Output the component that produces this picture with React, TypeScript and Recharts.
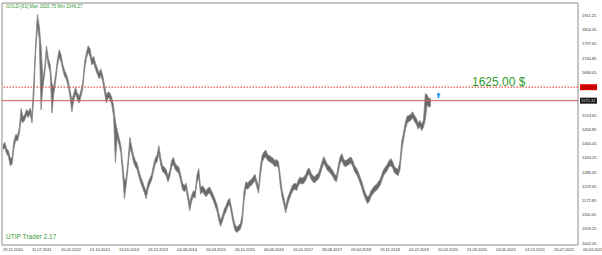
import React from 'react'
import { ComposedChart, Area, XAxis, YAxis, ReferenceLine, ReferenceArea, ReferenceDot } from 'recharts'

// daily gold, sampled every 2 weeks starting 29.11.2010
const START = Date.UTC(2010, 10, 29)
const STEP_DAYS = 14

const lows = [
  1376, 1384, 1360, 1348, 1312, 1318, 1380, 1414, 1410, 1440, 1492, 1484, 1494, 1515, 1504, 1520,
  1482, 1590, 1760, 1865, 1820, 1535, 1625, 1675, 1755, 1712, 1685, 1522, 1595, 1645, 1708, 1745,
  1728, 1694, 1668, 1655, 1628, 1585, 1527, 1572, 1598, 1578, 1562, 1588, 1618, 1695, 1738, 1764,
  1748, 1714, 1722, 1698, 1678, 1658, 1672, 1648, 1606, 1562, 1584, 1578, 1556, 1510, 1325, 1424,
  1396, 1364, 1280, 1180, 1236, 1305, 1380, 1362, 1326, 1308, 1296, 1268, 1243, 1223, 1203, 1180,
  1218, 1238, 1254, 1288, 1318, 1328, 1360, 1316, 1288, 1283, 1272, 1248, 1268, 1307, 1318, 1297,
  1288, 1282, 1252, 1218, 1208, 1218, 1176, 1132, 1168, 1188, 1183, 1245, 1265, 1198, 1208, 1198,
  1188, 1198, 1203, 1188, 1173, 1152, 1132, 1096, 1070, 1088, 1113, 1128, 1148, 1158, 1122, 1082,
  1054, 1046, 1052, 1060, 1086, 1170, 1222, 1218, 1228, 1233, 1243, 1253, 1228, 1202, 1270, 1326,
  1342, 1347, 1333, 1328, 1323, 1318, 1308, 1313, 1302, 1232, 1186, 1156, 1124, 1156, 1178, 1198,
  1213, 1218, 1213, 1233, 1243, 1238, 1243, 1253, 1273, 1278, 1258, 1248, 1243, 1253, 1258, 1277,
  1302, 1322, 1308, 1293, 1288, 1278, 1268, 1253, 1248, 1286, 1322, 1332, 1313, 1308, 1313, 1318,
  1323, 1308, 1288, 1278, 1263, 1243, 1222, 1197, 1178, 1162, 1168, 1188, 1198, 1208, 1213, 1223,
  1233, 1253, 1273, 1283, 1293, 1308, 1312, 1302, 1283, 1278, 1272, 1295, 1370, 1415, 1455, 1482,
  1488, 1493, 1503, 1488, 1478, 1458, 1468, 1452, 1466, 1495, 1555, 1545, 1550,
]

const highs = [
  1394, 1405, 1380, 1372, 1342, 1344, 1410, 1436, 1432, 1462, 1540, 1506, 1516, 1536, 1526, 1542,
  1515, 1650, 1800, 1915, 1870, 1790, 1655, 1705, 1790, 1740, 1715, 1640, 1625, 1675, 1735, 1775,
  1755, 1716, 1692, 1676, 1652, 1612, 1575, 1598, 1624, 1602, 1588, 1612, 1645, 1725, 1762, 1790,
  1778, 1738, 1748, 1722, 1702, 1682, 1698, 1672, 1634, 1594, 1606, 1602, 1584, 1552, 1490, 1455,
  1424, 1394, 1322, 1250, 1264, 1336, 1425, 1388, 1354, 1333, 1322, 1292, 1267, 1248, 1228, 1210,
  1244, 1262, 1277, 1313, 1342, 1354, 1392, 1344, 1312, 1307, 1297, 1272, 1292, 1333, 1345, 1322,
  1312, 1307, 1278, 1243, 1232, 1242, 1203, 1165, 1192, 1212, 1207, 1275, 1300, 1224, 1232, 1223,
  1212, 1222, 1227, 1212, 1197, 1178, 1158, 1124, 1094, 1112, 1137, 1152, 1172, 1182, 1148, 1108,
  1077, 1066, 1073, 1081, 1118, 1212, 1248, 1242, 1252, 1257, 1267, 1278, 1252, 1228, 1310, 1354,
  1368, 1374, 1357, 1352, 1347, 1342, 1332, 1337, 1328, 1270, 1214, 1184, 1148, 1184, 1202, 1222,
  1237, 1242, 1237, 1257, 1267, 1262, 1267, 1277, 1297, 1302, 1282, 1272, 1267, 1277, 1282, 1303,
  1328, 1348, 1332, 1317, 1312, 1302, 1292, 1277, 1272, 1314, 1348, 1360, 1337, 1332, 1337, 1342,
  1347, 1332, 1312, 1302, 1287, 1267, 1248, 1223, 1202, 1188, 1192, 1212, 1222, 1232, 1237, 1247,
  1257, 1277, 1297, 1307, 1317, 1332, 1340, 1328, 1307, 1302, 1298, 1330, 1410, 1445, 1485, 1510,
  1512, 1517, 1527, 1512, 1502, 1482, 1492, 1478, 1494, 1600, 1595, 1578, 1582,
]

const dateTicks = [
  '29.11.2010', '11.07.2011', '20.02.2012', '01.10.2012', '13.05.2013', '23.12.2013', '04.08.2014',
  '16.03.2015', '26.10.2015', '06.06.2016', '16.01.2017', '28.08.2017', '09.04.2018', '19.11.2018',
  '01.07.2019', '10.02.2020', '21.09.2020', '03.05.2021', '13.12.2021', '25.07.2022', '06.03.2023',
]

// 1627.25 and 1570.45 sit under the price tags, so they are left out
const priceTicks = [
  1002.45, 1059.25, 1116.05, 1172.85, 1229.65, 1286.45, 1343.25, 1400.05, 1456.85,
  1513.65, 1684.05, 1740.85, 1797.65, 1854.45, 1911.25,
]

const alertPrice = 1625.0
const currentPrice = 1571.32
const signalDay = 3364
const signalPrice = 1593

const X_DOMAIN = [-7.7, 4441.3]
const Y_DOMAIN = [995.7, 1960.8]

const toDay = (s: string) => {
  const [d, m, y] = s.split('.').map(Number)
  return Math.round((Date.UTC(y, m - 1, d) - START) / 86400000)
}
const tickDays = dateTicks.map(toDay)
const dayLabel = (day: number) => dateTicks[tickDays.indexOf(day)] ?? ''

const data = lows.map((lo, i) => ({ day: i * STEP_DAYS, range: [lo, highs[i]] }))

const FONT = '"Liberation Sans", Arial, sans-serif'

const DateTick = (props: any) => {
  const { x, y, payload } = props
  return (
    <text x={x} y={y + 6} fontSize={4} fontFamily={FONT} fill="#333" textAnchor="start">
      {dayLabel(payload.value)}
    </text>
  )
}

const PriceTag = (fill: string, color: string, text: string) => (props: any) => {
  const { viewBox } = props
  const x = viewBox.x + viewBox.width + 2
  const y = viewBox.y
  return (
    <g>
      <rect x={x} y={y - 3} width={17} height={6} fill={fill} />
      <text x={x + 1} y={y + 1.5} fontSize={4} fontFamily={FONT} fill={color}>
        {text}
      </text>
    </g>
  )
}

const Arrow = (props: any) => {
  const { cx, cy } = props
  return (
    <path
      d={`M${cx} ${cy - 3} L${cx + 2.2} ${cy} L${cx + 0.8} ${cy} L${cx + 0.8} ${cy + 3} L${cx - 0.8} ${cy + 3} L${cx - 0.8} ${cy} L${cx - 2.2} ${cy} Z`}
      fill="#1e90ff"
    />
  )
}

export default function App() {
  return (
    <div style={{ position: 'relative', width: 602, height: 255, background: '#fff' }}>
      <style>{'body{margin:0}'}</style>
      <ComposedChart width={602} height={255} data={data} margin={{ top: 3, right: 0, bottom: 0, left: 2 }}>
        <XAxis
          dataKey="day"
          type="number"
          domain={X_DOMAIN}
          ticks={tickDays}
          interval={0}
          height={10}
          axisLine={false}
          tickLine={false}
          tickSize={0}
          tickMargin={0}
          tick={<DateTick />}
          allowDataOverflow
        />
        <YAxis
          orientation="right"
          type="number"
          domain={Y_DOMAIN}
          ticks={priceTicks}
          interval={0}
          width={24}
          axisLine={false}
          tickLine={false}
          tickSize={0}
          tickMargin={4}
          tick={{ fontSize: 4, fill: '#333', fontFamily: FONT }}
          tickFormatter={(v: number) => v.toFixed(2)}
          allowDataOverflow
        />
        <Area
          dataKey="range"
          type="linear"
          stroke="#858585"
          strokeWidth={0.8}
          fill="#6a6a6a"
          fillOpacity={1}
          isAnimationActive={false}
          dot={false}
          activeDot={false}
        />
        <ReferenceArea
          x1={X_DOMAIN[0]}
          x2={X_DOMAIN[1]}
          y1={Y_DOMAIN[0]}
          y2={Y_DOMAIN[1]}
          fill="none"
          fillOpacity={0}
          stroke="#8c8c8c"
          strokeWidth={1}
          ifOverflow="visible"
        />
        <ReferenceLine
          y={alertPrice}
          stroke="#ef4f55"
          strokeWidth={1.2}
          strokeDasharray="1.5 1.5"
          label={PriceTag('#e00000', '#7a0000', '1625.00')}
        />
        <ReferenceLine
          y={currentPrice}
          stroke="#d65a5a"
          label={PriceTag('#1a1a1a', '#ddd', currentPrice.toFixed(2))}
        />
        <ReferenceDot x={signalDay} y={signalPrice} shape={<Arrow />} ifOverflow="visible" />
      </ComposedChart>
      <div
        style={{
          position: 'absolute',
          left: 6,
          top: 5,
          fontSize: 4.6,
          fontFamily: FONT,
          color: '#3a9a3a',
          whiteSpace: 'nowrap',
          lineHeight: 1,
        }}
      >
        GOLD-[91] Max 1920.75 Min 1046.27
      </div>
      <div
        style={{
          position: 'absolute',
          left: 6,
          top: 234,
          fontSize: 6.6,
          fontFamily: FONT,
          color: '#3a9a3a',
          whiteSpace: 'nowrap',
          lineHeight: 1,
        }}
      >
        UTIP Trader 2.17
      </div>
      <div
        style={{
          position: 'absolute',
          left: 472,
          top: 76,
          fontSize: 12,
          fontFamily: FONT,
          color: '#2e9a2e',
          whiteSpace: 'nowrap',
          lineHeight: 1,
        }}
      >
        1625.00 $
      </div>
    </div>
  )
}
